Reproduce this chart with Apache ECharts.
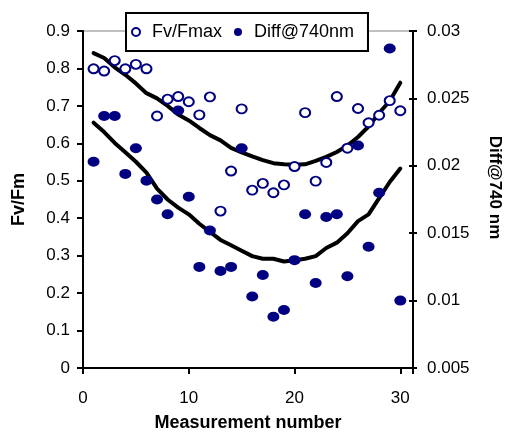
<!DOCTYPE html>
<html>
<head>
<meta charset="utf-8">
<script src="https://cdn.jsdelivr.net/npm/echarts@6/dist/echarts.min.js"></script>
<style>
  html, body { margin: 0; padding: 0; background: #fff; }
  #chart { width: 506px; height: 433px; }
</style>
</head>
<body>
<div id="chart"></div>
<script>
// Measurement index (x axis)
const measurement = [1, 2, 3, 4, 5, 6, 7, 8, 9, 10, 11, 12, 13, 14, 15,
  16, 17, 18, 19, 20, 21, 22, 23, 24, 25, 26, 27, 28, 29, 30];

// Fv/Fmax per measurement (left axis)
const fvFmax = [0.799, 0.793, 0.821, 0.799, 0.811, 0.799, 0.673, 0.718, 0.725, 0.711,
  0.676, 0.724, 0.419, 0.526, 0.692, 0.475, 0.493, 0.468, 0.489, 0.538,
  0.682, 0.499, 0.549, 0.725, 0.587, 0.693, 0.655, 0.675, 0.714, 0.687];

// Reflectance difference at 740 nm per measurement (right axis)
const diff740 = [0.0203, 0.0237, 0.0237, 0.0194, 0.0213, 0.0189, 0.0175, 0.0164, 0.0241, 0.0177,
  0.0125, 0.0152, 0.0122, 0.0125, 0.0213, 0.0103, 0.0119, 0.0088, 0.0093, 0.0130,
  0.0164, 0.0113, 0.0162, 0.0164, 0.0118, 0.0215, 0.0140, 0.0180, 0.0287, 0.0100];

// Trend curves
const fvTrend = [0.841, 0.828, 0.803, 0.783, 0.760, 0.734, 0.720, 0.700, 0.677, 0.661,
  0.641, 0.622, 0.608, 0.588, 0.576, 0.565, 0.555, 0.547, 0.544, 0.543,
  0.544, 0.553, 0.564, 0.577, 0.594, 0.617, 0.645, 0.681, 0.713, 0.762];
const diffTrend = [0.0232, 0.0225, 0.0217, 0.0210, 0.0203, 0.0195, 0.0183, 0.0175, 0.0169, 0.0164,
  0.0157, 0.0151, 0.0145, 0.0141, 0.0137, 0.0133, 0.0131, 0.0131, 0.0129, 0.0130,
  0.0131, 0.0133, 0.0139, 0.0143, 0.0150, 0.0159, 0.0164, 0.0176, 0.0188, 0.0198];

// Axis ranges and tick steps
const xRange = [0, 31.2], xStep = 10;
const leftRange = [0, 0.9], leftStep = 0.1;
const rightRange = [0.005, 0.03], rightStep = 0.005;

const NAVY = '#000080';
const FONT = '"Liberation Sans", Arial, sans-serif';
const ELLIPSE = 'path://M0,5A5,5 0 1,1 10,5A5,5 0 1,1 0,5Z';

const pairs = (ys) => measurement.map((x, i) => [x, ys[i]]);

const tickLabel = { color: '#000', fontSize: 17, fontFamily: FONT };
const blackLine = { lineStyle: { color: '#000', width: 2 } };

const chart = echarts.init(document.getElementById('chart'), null, { renderer: 'canvas' });

chart.setOption({
  animation: false,
  backgroundColor: '#fff',
  grid: {
    left: 83, right: 93, top: 31, bottom: 65,
    outerBoundsMode: 'none', containLabel: false,
    show: true, borderColor: '#808080', borderWidth: 1, backgroundColor: 'transparent'
  },
  legend: {
    data: ['Fv/Fmax', 'Diff@740nm'],
    left: 126, top: 13,
    itemWidth: 8, itemHeight: 9, itemGap: 12,
    padding: [8, 14, 8, 5],
    borderColor: '#000', borderWidth: 2, backgroundColor: '#fff',
    selectedMode: false,
    textStyle: { color: '#000', fontSize: 18, fontFamily: FONT, lineHeight: 22, padding: [0, 0, 0, 7] }
  },
  xAxis: {
    type: 'value', min: xRange[0], max: xRange[1], interval: xStep,
    axisLine: blackLine,
    axisTick: { show: true, length: 6, lineStyle: { color: '#000', width: 2 } },
    axisLabel: Object.assign({ margin: 22, formatter: v => (v % xStep === 0 ? String(v) : '') }, tickLabel),
    splitLine: { show: false },
    name: 'Measurement number', nameLocation: 'middle', nameGap: 46,
    nameTextStyle: { color: '#000', fontSize: 18, fontWeight: 'bold', fontFamily: FONT }
  },
  yAxis: [
    {
      type: 'value', position: 'left', min: leftRange[0], max: leftRange[1], interval: leftStep,
      axisLine: blackLine,
      axisTick: { show: true, length: 6, lineStyle: { color: '#000', width: 2 } },
      axisLabel: Object.assign({ margin: 13 }, tickLabel),
      splitLine: { show: false },
      name: 'Fv/Fm', nameLocation: 'middle', nameGap: 55,
      nameTextStyle: { color: '#000', fontSize: 18, fontWeight: 'bold', fontFamily: FONT }
    },
    {
      type: 'value', position: 'right', min: rightRange[0], max: rightRange[1], interval: rightStep,
      axisLine: blackLine,
      axisTick: { show: true, length: 4, lineStyle: { color: '#000', width: 2 } },
      axisLabel: Object.assign({ margin: 14 }, tickLabel),
      splitLine: { show: false },
      name: 'Diff@740 nm', nameLocation: 'middle', nameGap: 73, nameRotate: -90,
      nameTextStyle: { color: '#000', fontSize: 17, fontWeight: 'bold', fontFamily: FONT, padding: [0, 24, 0, 0] }
    },
    {
      // inner half of the crossing ticks on the right axis
      type: 'value', position: 'right', min: rightRange[0], max: rightRange[1], interval: rightStep,
      axisLine: { show: false },
      axisTick: { show: true, inside: true, length: 4, lineStyle: { color: '#000', width: 2 } },
      axisLabel: { show: false },
      splitLine: { show: false }
    }
  ],
  series: [
    {
      name: 'Fv/Fmax trend', type: 'line', yAxisIndex: 0, z: 2,
      data: pairs(fvTrend), showSymbol: false, symbol: 'none',
      lineStyle: { color: '#000', width: 4, join: 'round', cap: 'round' }
    },
    {
      name: 'Diff trend', type: 'line', yAxisIndex: 1, z: 2,
      data: pairs(diffTrend), showSymbol: false, symbol: 'none',
      lineStyle: { color: '#000', width: 4, join: 'round', cap: 'round' }
    },
    {
      name: 'Fv/Fmax', type: 'scatter', yAxisIndex: 0, z: 3,
      data: pairs(fvFmax), symbol: ELLIPSE, symbolSize: [10, 9],
      itemStyle: { color: '#fff', borderColor: NAVY, borderWidth: 2, opacity: 1 }
    },
    {
      name: 'Diff@740nm', type: 'scatter', yAxisIndex: 1, z: 3,
      data: pairs(diff740), symbol: ELLIPSE, symbolSize: [12, 10],
      itemStyle: { color: NAVY, opacity: 1 }
    }
  ]
});
</script>
</body>
</html>
